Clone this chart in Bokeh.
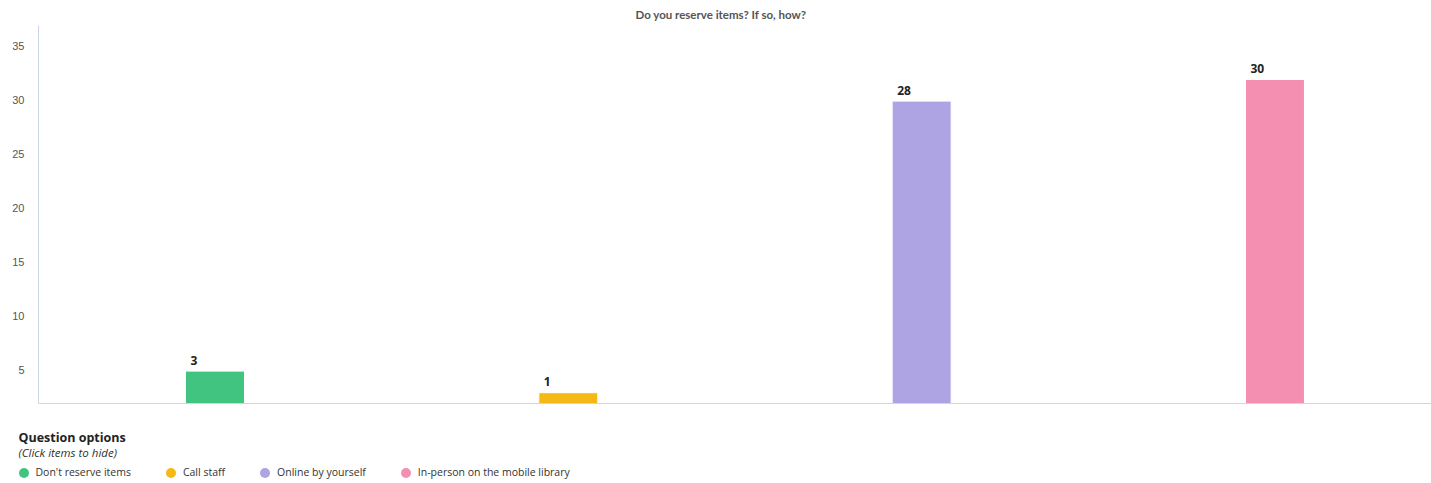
from bokeh.plotting import figure
from bokeh.layouts import column
from bokeh.models import Range1d, FixedTicker, Label, Legend, LegendItem, ColumnDataSource
from bokeh.core.properties import value
from bokeh.embed import file_html
from bokeh.resources import INLINE

chart_title = "Do you reserve items? If so, how?"
legend_title = "Question options"
legend_subtitle = "(Click items to hide)"
categories = ["Don't reserve items", "Call staff", "Online by yourself", "In-person on the mobile library"]
counts = [3, 1, 28, 30]
colors = ["#40C47F", "#F4B914", "#AEA4E4", "#F48FB1"]
y_ticks = [5, 10, 15, 20, 25, 30, 35]
y_start = 1.94
y_end = 36.94

positions = list(range(len(categories)))

p = figure(width=1431, height=420, output_backend="svg", toolbar_location=None,
           x_range=Range1d(-0.4995, 3.443), y_range=Range1d(y_start, y_end),
           min_border_left=38, min_border_right=0, min_border_top=25, min_border_bottom=17)
p.outline_line_color = None
p.xgrid.visible = False
p.ygrid.visible = False
p.frame_align = False

p.title.text = chart_title
p.title.align = "left"
p.title.offset = 597
p.title.text_font = "Lato"
p.title.text_font_style = "bold"
p.title.text_font_size = "11.5px"
p.title.text_color = "#555555"
p.title.standoff = 9

# axes
p.yaxis.ticker = FixedTicker(ticks=y_ticks)
p.yaxis.axis_line_color = "#ccd6eb"
p.yaxis.major_tick_line_color = None
p.yaxis.minor_tick_line_color = None
p.yaxis.major_tick_out = 0
p.yaxis.major_tick_in = 0
p.yaxis.major_label_standoff = 14
p.yaxis.major_label_text_font = "Liberation Sans"
p.yaxis.major_label_text_font_size = "11px"
p.yaxis.major_label_text_color = "#555555"

p.xaxis.ticker = FixedTicker(ticks=[])
p.xaxis.axis_line_color = "#ccd6eb"
p.xaxis.major_tick_line_color = None
p.xaxis.minor_tick_line_color = None
p.xaxis.major_tick_out = 0
p.xaxis.major_tick_in = 0
p.xaxis.major_label_standoff = 0
p.xaxis.major_label_text_font_size = "0px"

# legend strip (a second plot below the chart, no axes)
p2 = figure(width=1431, height=63, output_backend="svg", toolbar_location=None,
            x_range=Range1d(0, 1431), y_range=Range1d(63, 0),
            x_axis_location=None, y_axis_location=None,
            min_border=0, min_border_left=0, min_border_right=0,
            min_border_top=0, min_border_bottom=0)
p2.outline_line_color = None
p2.grid.visible = False
p2.frame_align = False

items = []
for i, cat in enumerate(categories):
    src = ColumnDataSource(dict(x=[positions[i]], bottom=[y_start], top=[y_start + counts[i]],
                                label=[str(counts[i])]))
    r = p.vbar(x="x", bottom="bottom", top="top", width=0.167, source=src,
               fill_color=colors[i], line_color="white", line_width=1)
    t = p.text(x="x", y="top", text="label", source=src, x_offset=-24.5, y_offset=-11,
               text_align="left", text_baseline="alphabetic", text_font=value("Open Sans"),
               text_font_style="bold", text_font_size="12px", text_color="#222222")
    # legend marker (a not-drawn point, used only for the legend swatch)
    m = p2.scatter(x=[float("nan")], y=[float("nan")], marker="circle", size=10,
                   fill_color=colors[i], line_color=None)
    m.js_link("visible", r, "visible")
    m.js_link("visible", t, "visible")
    items.append(LegendItem(label=cat, renderers=[m]))

legend = Legend(items=items, orientation="horizontal", location=(10.5, -1.5),
                glyph_width=25, glyph_height=25, label_standoff=0, spacing=27,
                padding=0, margin=0, border_line_color=None, background_fill_alpha=0,
                label_text_font="Open Sans", label_text_font_size="10.5px",
                label_text_color="#333333", click_policy="hide")
p2.add_layout(legend)

p2.add_layout(Label(x=18, y=17, text=legend_title,
                    text_align="left", text_baseline="middle", text_font="Open Sans",
                    text_font_style="bold", text_font_size="12.5px", text_color="#222222"))
p2.add_layout(Label(x=18, y=32, text=legend_subtitle,
                    text_align="left", text_baseline="middle", text_font="Open Sans",
                    text_font_style="italic", text_font_size="11.5px", text_color="#333333"))

layout = column(p, p2, spacing=0)
open("out.html", "w").write(file_html(layout, INLINE))
